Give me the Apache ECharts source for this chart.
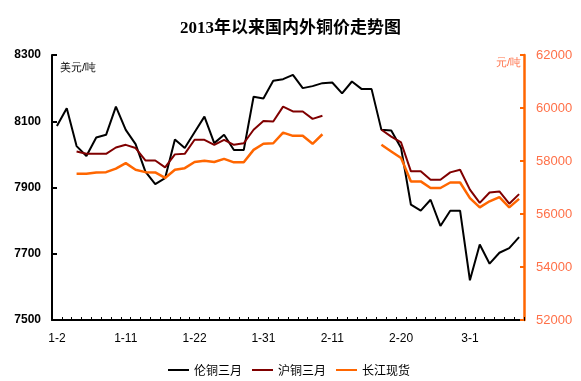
<!DOCTYPE html>
<html>
<head>
<meta charset="utf-8">
<script src="https://cdn.jsdelivr.net/npm/echarts@6/dist/echarts.min.js"></script>
<style>html,body{margin:0;padding:0;background:#fff;}#c{width:581px;height:381px;}</style>
</head>
<body>
<div id="c"></div>
<script>
const dates = ['1-2','1-3','1-4','1-7','1-8','1-9','1-10','1-11','1-14','1-15','1-16','1-17','1-18','1-21',
  '1-22','1-23','1-24','1-25','1-28','1-29','1-30','1-31','2-1','2-4','2-5','2-6','2-7','2-8',
  '2-11','2-12','2-13','2-14','2-15','2-18','2-19','2-20','2-21','2-22','2-25','2-26','2-27','2-28',
  '3-1','3-4','3-5','3-6','3-7','3-8'];
const lme = [8086,8139,8025,7995,8051,8059,8144,8074,8031,7948,7910,7928,8045,8019,
  8067,8114,8034,8059,8013,8013,8174,8169,8222,8227,8240,8200,8206,8215,
  8217,8184,8220,8197,8197,8074,8072,8019,7848,7830,7863,7784,7830,7830,
  7620,7728,7670,7703,7717,7750];
const shfe = [null,null,58360,58270,58270,58270,58510,58610,58490,58020,58020,57760,58250,58270,
  58800,58800,58610,58800,58610,58670,59180,59510,59490,60050,59870,59870,59590,59710,
  null,null,null,null,null,59180,58920,58700,57610,57610,57290,57290,57570,57670,
  56920,56420,56810,56850,56390,56750];
const spot = [null,null,57520,57520,57570,57580,57710,57920,57670,57580,57570,57360,57670,57730,
  57960,58010,57960,58080,57950,57950,58420,58650,58670,59070,58950,58950,58650,59010,
  null,null,null,null,null,58610,58360,58110,57230,57230,56980,56980,57190,57190,
  56600,56250,56480,56640,56250,56570];
const seriesNames = ['伦铜三月','沪铜三月','长江现货'];
const leftTicks = {min:7500, max:8300, interval:200};
const rightTicks = {min:52000, max:62000, interval:2000};

const chart = echarts.init(document.getElementById('c'), null, {renderer:'canvas'});
const numFont = "'Liberation Sans', Arial, sans-serif";
const cjkFont = "'Noto Sans CJK SC', sans-serif";
const plain = v => String(v);
chart.setOption({
  animation:false,
  backgroundColor:'#fff',
  title:{
    text:'2013年以来国内外铜价走势图', left:'center', top:15,
    textStyle:{fontSize:17, fontWeight:'bold', color:'#000', fontFamily:"'Liberation Serif','Noto Sans CJK SC',serif"}
  },
  grid:{left:52, right:57, top:55, bottom:61, containLabel:false},
  legend:{
    data:seriesNames, left:163, top:359, icon:'rect', itemWidth:21, itemHeight:2, itemGap:10,
    textStyle:{fontSize:12, color:'#000', fontFamily:cjkFont}
  },
  xAxis:{
    type:'category', data:dates, boundaryGap:true,
    axisLine:{show:true, lineStyle:{color:'#000', width:2}},
    axisTick:{show:true, inside:true, length:3, interval:0, lineStyle:{color:'#000', width:1}},
    axisLabel:{interval:6, margin:13, fontSize:12, color:'#000', fontFamily:numFont},
    splitLine:{show:false}
  },
  yAxis:[
    {type:'value', position:'left', min:leftTicks.min, max:leftTicks.max, interval:leftTicks.interval,
     axisLine:{show:true, lineStyle:{color:'#000', width:2}},
     axisTick:{show:true, inside:true, length:5, lineStyle:{color:'#000', width:2}},
     axisLabel:{margin:11, fontSize:12, fontWeight:'bold', color:'#000', fontFamily:numFont, formatter:plain},
     splitLine:{show:false}},
    {type:'value', position:'right', min:rightTicks.min, max:rightTicks.max, interval:rightTicks.interval,
     axisLine:{show:true, lineStyle:{color:'#FF6600', width:2.5}},
     axisTick:{show:true, inside:true, length:4, lineStyle:{color:'#FF6600', width:2}},
     axisLabel:{margin:12, fontSize:13, color:'#FF7048', fontFamily:numFont, formatter:plain},
     splitLine:{show:false}}
  ],
  graphic:[
    {type:'text', left:60, top:62, style:{text:'美元/吨', fontSize:11, fill:'#000', font:"11px 'Noto Sans CJK SC', sans-serif"}},
    {type:'text', right:60, top:57, style:{text:'元/吨', fontSize:11, fill:'#FF7048', font:"11px 'Noto Sans CJK SC', sans-serif"}}
  ],
  series:[
    {name:seriesNames[0], type:'line', data:lme, yAxisIndex:0, showSymbol:false, symbol:'none',
     lineStyle:{color:'#000', width:2}, itemStyle:{color:'#000'}, connectNulls:false},
    {name:seriesNames[1], type:'line', data:shfe, yAxisIndex:1, showSymbol:false, symbol:'none',
     lineStyle:{color:'#800000', width:2}, itemStyle:{color:'#800000'}, connectNulls:false},
    {name:seriesNames[2], type:'line', data:spot, yAxisIndex:1, showSymbol:false, symbol:'none',
     lineStyle:{color:'#FF6600', width:2.5}, itemStyle:{color:'#FF6600'}, connectNulls:false}
  ]
});
</script>
</body>
</html>
